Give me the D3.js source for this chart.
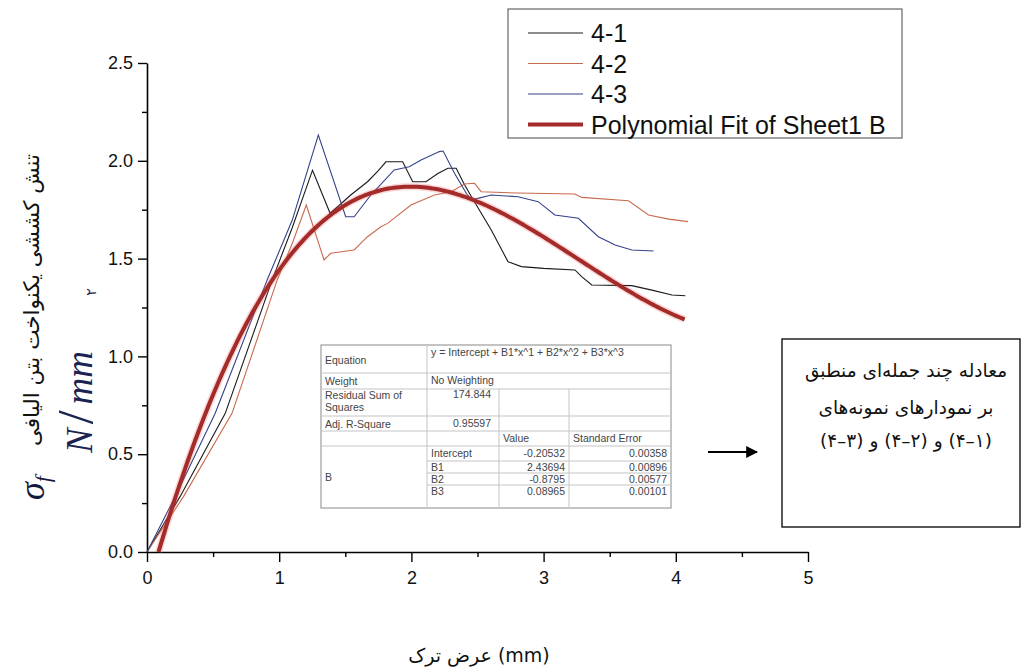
<!DOCTYPE html>
<html>
<head>
<meta charset="utf-8">
<script src="https://cdn.jsdelivr.net/npm/d3@7"></script>
<style>
  html, body { margin: 0; padding: 0; background: #fff; }
  svg { display: block; }
</style>
</head>
<body>
<svg id="chart" width="1024" height="669"></svg>
<script>
// ---- data: crack width (mm) vs. stress, three specimens ----
const series41 = [[0,0],[0.25,0.283],[0.592,0.709],[0.947,1.391],[1.10,1.66],[1.252,1.952],[1.385,1.732],
  [1.45,1.77],[1.541,1.825],[1.668,1.893],[1.75,1.95],[1.807,1.995],[1.934,1.995],[2.01,1.893],[2.11,1.893],
  [2.20,1.935],[2.276,1.962],[2.339,1.962],[2.40,1.88],[2.453,1.817],[2.604,1.646],[2.731,1.484],[2.832,1.459],
  [3.0,1.45],[3.237,1.442],[3.288,1.408],[3.364,1.365],[3.667,1.362],[3.819,1.339],[3.971,1.314],[4.072,1.310]];
const series42 = [[0,0],[0.276,0.283],[0.643,0.709],[0.985,1.391],[1.10,1.58],[1.205,1.774],[1.339,1.493],
  [1.39,1.527],[1.567,1.544],[1.668,1.612],[1.769,1.663],[1.820,1.680],[1.997,1.774],[2.174,1.825],[2.301,1.842],
  [2.402,1.881],[2.478,1.885],[2.528,1.842],[2.8,1.835],[3.237,1.830],[3.288,1.813],[3.642,1.796],[3.794,1.723],
  [3.946,1.702],[4.093,1.689]];
const series43 = [[0,0],[0.213,0.283],[0.516,0.709],[0.909,1.391],[1.099,1.697],[1.296,2.132],[1.503,1.714],
  [1.567,1.714],[1.693,1.825],[1.870,1.953],[1.984,1.970],[2.073,2.004],[2.212,2.047],[2.240,2.05],[2.326,1.936],
  [2.415,1.834],[2.453,1.80],[2.503,1.808],[2.604,1.825],[2.807,1.816],[2.959,1.791],[3.085,1.723],[3.263,1.706],
  [3.414,1.612],[3.541,1.570],[3.667,1.544],[3.832,1.539]];

// cubic fit coefficients (Intercept, B1, B2, B3) and their standard errors
const fitCoef = [-0.20532, 2.43694, -0.8795, 0.08965];
const fitErr = [0.00358, 0.00896, 0.00577, 0.00101];
const fitRange = [0.087, 4.08];
const residualSS = "174.844";
const adjR2 = "0.95597";

const xTicks = [0, 1, 2, 3, 4, 5];
const yTicks = [0, 0.5, 1.0, 1.5, 2.0, 2.5];
const legendLabels = ["4-1", "4-2", "4-3", "Polynomial Fit of Sheet1 B"];

// ---- layout ----
const svg = d3.select("#chart");
const x = d3.scaleLinear().domain([0, 5]).range([147, 808]);
const y = d3.scaleLinear().domain([0, 2.5]).range([552, 63]);
const sans = "'Liberation Sans', Arial, sans-serif";
const persian = "'DejaVu Sans', sans-serif";
const serif = "'Liberation Serif', 'DejaVu Serif', serif";

// axes
const gx = svg.append("g").attr("transform", `translate(0,${y(0)})`)
  .call(d3.axisBottom(x).tickValues(d3.range(0, 5.01, 0.5)).tickSize(5).tickSizeOuter(0).tickFormat(""));
gx.selectAll(".tick line").filter(d => Number.isInteger(d)).attr("y2", 10);
const gxl = svg.append("g").attr("transform", `translate(0,${y(0)})`)
  .call(d3.axisBottom(x).tickValues(xTicks).tickSize(0).tickPadding(19).tickFormat(d3.format("d")));
gxl.select(".domain").remove();

const gy = svg.append("g").attr("transform", `translate(${x(0)},0)`)
  .call(d3.axisLeft(y).tickValues(d3.range(0, 2.51, 0.25)).tickSize(5).tickSizeOuter(0).tickFormat(""));
gy.selectAll(".tick line").filter(d => Math.abs(d * 2 - Math.round(d * 2)) < 1e-6).attr("x2", -9);
const gyl = svg.append("g").attr("transform", `translate(${x(0)},0)`)
  .call(d3.axisLeft(y).tickValues(yTicks).tickSize(0).tickPadding(14).tickFormat(d3.format(".1f")));
gyl.select(".domain").remove();

svg.selectAll(".domain").attr("stroke", "#000").attr("stroke-width", 1.6);
svg.selectAll(".tick line").attr("stroke", "#000").attr("stroke-width", 1.4);
svg.selectAll(".tick text").attr("font-family", sans).attr("font-size", 18).attr("fill", "#111");

// series lines
const line = d3.line().x(d => x(d[0])).y(d => y(d[1]));
const specimens = [
  { data: series41, color: "#1a1a1a" },
  { data: series42, color: "#c86a4e" },
  { data: series43, color: "#34428a" }
];
specimens.forEach(s => {
  svg.append("path").datum(s.data).attr("d", line)
    .attr("fill", "none").attr("stroke", s.color).attr("stroke-width", 1.1);
});

// polynomial fit curve with a soft red halo
const poly = xv => fitCoef.reduce((acc, c, i) => acc + c * Math.pow(xv, i), 0);
const fitPts = d3.range(fitRange[0], fitRange[1] + 1e-9, 0.02).map(xv => [xv, poly(xv)]);
svg.append("path").datum(fitPts).attr("d", line)
  .attr("fill", "none").attr("stroke", "#f06060").attr("stroke-opacity", 0.25).attr("stroke-width", 7);
svg.append("path").datum(fitPts).attr("d", line)
  .attr("fill", "none").attr("stroke", "#a32b29").attr("stroke-width", 4);

// legend
const lg = svg.append("g");
lg.append("rect").attr("x", 508).attr("y", 9).attr("width", 394).attr("height", 129)
  .attr("fill", "#fff").attr("stroke", "#666").attr("stroke-width", 1.2);
const legendColors = ["#1a1a1a", "#c86a4e", "#34428a", "#a32b29"];
legendLabels.forEach((lab, i) => {
  const yy = 33 + i * 30.5;
  lg.append("line").attr("x1", 528).attr("x2", 583).attr("y1", yy).attr("y2", yy)
    .attr("stroke", legendColors[i]).attr("stroke-width", i === 3 ? 4 : 1.1);
  lg.append("text").attr("x", 591).attr("y", yy + 9).text(lab)
    .attr("font-family", sans).attr("font-size", 25).attr("fill", "#111");
});

// fit statistics table
const tb = svg.append("g").attr("font-family", sans).attr("font-size", 10.5).attr("fill", "#444");
const cx = [321, 427, 499, 569, 671];
const ry = [345, 373, 389, 416, 431, 446, 461, 473, 485, 508];
tb.append("rect").attr("x", cx[0]).attr("y", ry[0]).attr("width", cx[4] - cx[0]).attr("height", ry[9] - ry[0])
  .attr("fill", "#fff").attr("stroke", "#888").attr("stroke-width", 1);
const hl = (x1, x2, yy) => tb.append("line").attr("x1", x1).attr("x2", x2).attr("y1", yy).attr("y2", yy).attr("stroke", "#c4c4c4");
const vl = (xx, y1, y2) => tb.append("line").attr("x1", xx).attr("x2", xx).attr("y1", y1).attr("y2", y2).attr("stroke", "#c4c4c4");
[1, 2, 3, 4, 5].forEach(i => hl(cx[0], cx[4], ry[i]));
[6, 7, 8].forEach(i => hl(cx[1], cx[4], ry[i]));
vl(cx[1], ry[0], ry[9]);
vl(cx[2], ry[2], ry[9]);
vl(cx[3], ry[2], ry[9]);
const t = (txt, xx, yy, anchor) => tb.append("text").attr("x", xx).attr("y", yy).attr("text-anchor", anchor || "start").text(txt);
t("Equation", 325, 364);
t("y = Intercept + B1*x^1 + B2*x^2 + B3*x^3", 431, 356);
t("Weight", 325, 385);
t("No Weighting", 431, 384);
t("Residual Sum of", 325, 399);
t("Squares", 325, 411);
t(residualSS, 491, 398, "end");
t("Adj. R-Square", 325, 428);
t(adjR2, 491, 427, "end");
t("Value", 503, 442);
t("Standard Error", 573, 442);
t("B", 325, 481);
const paramNames = ["Intercept", "B1", "B2", "B3"];
const valueText = ["-0.20532", "2.43694", "-0.8795", "0.08965"];
const rowBase = [457, 471, 483, 495];
paramNames.forEach((p, i) => {
  t(p, 431, rowBase[i]);
  t(valueText[i], 565, rowBase[i], "end");
  t(fitErr[i].toFixed(5), 667, rowBase[i], "end");
});

// annotation arrow and note box
svg.append("defs").append("marker").attr("id", "ah").attr("viewBox", "0 0 10 10")
  .attr("refX", 9).attr("refY", 5).attr("markerWidth", 6).attr("markerHeight", 6)
  .attr("markerUnits", "strokeWidth").attr("orient", "auto")
  .append("path").attr("d", "M0,0 L10,5 L0,10 z").attr("fill", "#000");
svg.append("line").attr("x1", 708).attr("x2", 757).attr("y1", 452).attr("y2", 452)
  .attr("stroke", "#000").attr("stroke-width", 2).attr("marker-end", "url(#ah)");
svg.append("rect").attr("x", 782).attr("y", 339).attr("width", 238).attr("height", 188)
  .attr("fill", "#fff").attr("stroke", "#000").attr("stroke-width", 1.3);
const noteLines = ["معادله چند جمله‌ای منطبق", "بر نمودارهای نمونه‌های", "\u202D(۴–۳) و (۴–۲) و (۴–۱)\u202C"];
const noteY = [377, 414, 447];
noteLines.forEach((s, i) => {
  svg.append("text").attr("x", 906).attr("y", noteY[i]).attr("text-anchor", "middle")
    .attr("font-family", persian).attr("font-size", 18.5).attr("fill", "#111").text(s);
});

// y-axis title: Persian caption, sigma symbol and unit
svg.append("text").attr("transform", "translate(39,300) rotate(-90)").attr("text-anchor", "middle")
  .attr("font-family", persian).attr("font-size", 21.5).attr("fill", "#111").text("تنش کششی یکنواخت بتن الیافی");
const sig = svg.append("text").attr("transform", "translate(44,500) rotate(-90)").attr("text-anchor", "start")
  .attr("font-family", serif).attr("font-style", "italic")
  .attr("font-size", 36).attr("fill", "#141a3a");
sig.append("tspan").text("σ");
sig.append("tspan").attr("font-size", 22).attr("dy", 6).text("f");

const unit = svg.append("text").attr("transform", "translate(92,453) rotate(-90)").attr("text-anchor", "start")
  .attr("font-family", serif).attr("font-style", "italic")
  .attr("font-size", 37).attr("fill", "#1b2450");
unit.append("tspan").text("N");
unit.append("tspan").attr("font-style", "normal").attr("font-size", 50).attr("dx", 4).text("/");
unit.append("tspan").attr("dx", 6).text("mm");
svg.append("text").attr("transform", "translate(96,292) rotate(-90)").attr("text-anchor", "middle")
  .attr("font-family", persian).attr("font-size", 14).attr("fill", "#1b2450").text("۲");

// x-axis title
svg.append("text").attr("x", 479).attr("y", 662).attr("text-anchor", "middle")
  .attr("font-family", persian).attr("font-size", 19).attr("fill", "#111").text("عرض ترک (mm)");
</script>
</body>
</html>
